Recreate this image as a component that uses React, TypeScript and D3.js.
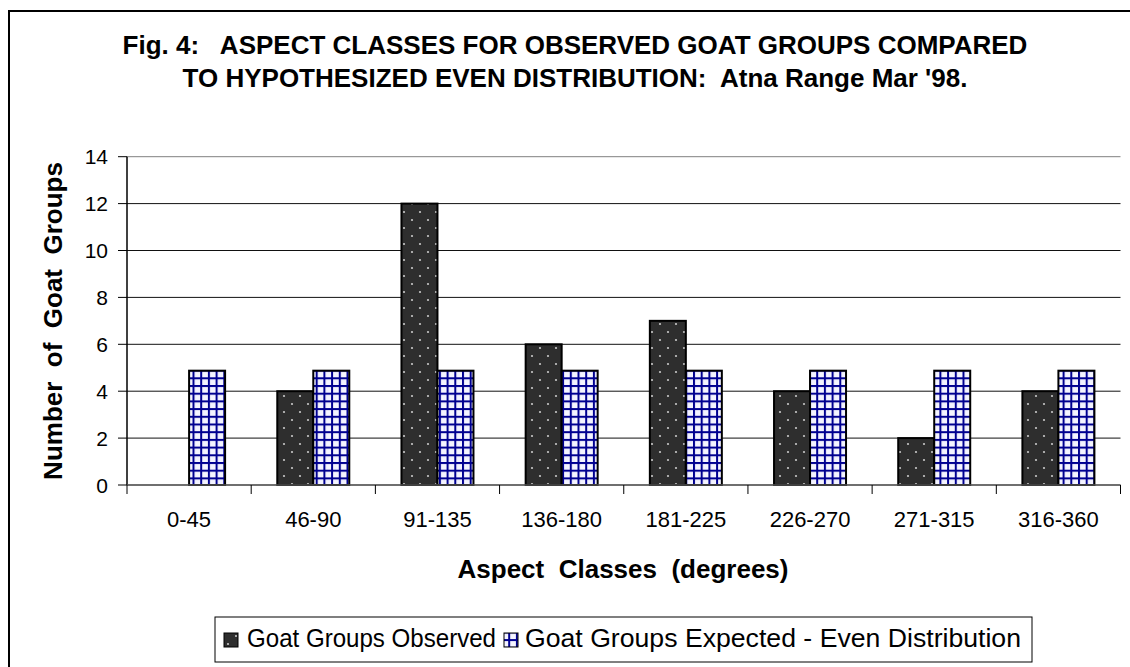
import React from "react";
import * as d3 from "d3";

const categories = ["0-45", "46-90", "91-135", "136-180", "181-225", "226-270", "271-315", "316-360"];
const observed = [0, 4, 12, 6, 7, 4, 2, 4];
const expected = [4.875, 4.875, 4.875, 4.875, 4.875, 4.875, 4.875, 4.875];
const yTicks = [0, 2, 4, 6, 8, 10, 12, 14];
const seriesNames = ["Goat Groups Observed", "Goat Groups Expected - Even Distribution"];
const titleLines = [
  "Fig. 4:   ASPECT CLASSES FOR OBSERVED GOAT GROUPS COMPARED",
  "TO HYPOTHESIZED EVEN DISTRIBUTION:  Atna Range Mar '98.",
];

const W = 1130;
const H = 667;
const FONT = "'Liberation Sans', Arial, sans-serif";

export default function App() {
  const left = 127;
  const right = 1120.5;
  const top = 156.7;
  const bottom = 485;

  const x0 = d3.scaleBand<string>().domain(categories).range([left, right]).paddingInner(0).paddingOuter(0);
  const inner = d3.scaleBand<string>().domain(["obs", "exp"]).range([0, 72]);
  const groupOffset = (x0.bandwidth() - 72) / 2;
  const y = d3.scaleLinear().domain([0, 14]).range([bottom, top]);

  const boundaries = d3.range(categories.length + 1).map((i) => left + i * x0.step());

  return (
    <svg width={W} height={H} style={{ position: "absolute", left: 0, top: 0, background: "#fff" }} fontFamily={FONT}>
      <defs>
        <pattern id="dots" patternUnits="userSpaceOnUse" width={16} height={16}>
          <rect width={16} height={16} fill="#2e2e2e" />
          <circle cx={4} cy={4} r={1.1} fill="#c8c8c8" />
          <circle cx={12} cy={12} r={1.1} fill="#c8c8c8" />
        </pattern>
        <pattern id="grid" patternUnits="userSpaceOnUse" width={7.7} height={7.7}>
          <rect width={7.7} height={7.7} fill="#f4f4ff" />
          <rect x={0} y={0} width={7.7} height={2} fill="#000090" />
          <rect x={0} y={0} width={2} height={7.7} fill="#000090" />
        </pattern>
      </defs>
      <rect x={0} y={0} width={W} height={H} fill="#fff" />
      <rect x={9} y={11} width={W + 20} height={H + 20} fill="none" stroke="#000" strokeWidth={2} />

      {titleLines.map((t, i) => (
        <text key={i} x={575} y={54 + i * 33} textAnchor="middle" fontWeight="bold" fontSize={26} style={{ whiteSpace: "pre" }}>
          {t}
        </text>
      ))}

      {/* gridlines */}
      {yTicks.map((t) => (
        <line key={t} x1={left} x2={right} y1={y(t)} y2={y(t)} stroke={t === 14 || t === 0 ? "#808080" : "#111"} strokeWidth={1} />
      ))}
      {/* y ticks & labels */}
      {yTicks.map((t) => (
        <g key={"yt" + t}>
          <line x1={left - 9} x2={left} y1={y(t)} y2={y(t)} stroke="#000" />
          <text x={left - 19} y={y(t)} dy="0.36em" textAnchor="end" fontSize={21}>
            {t}
          </text>
        </g>
      ))}
      {/* bars */}
      {categories.map((c, i) => {
        const gx = (x0(c) as number) + groupOffset;
        return (
          <g key={c}>
            {observed[i] > 0 && (
              <rect x={gx + (inner("obs") as number)} y={y(observed[i])} width={inner.bandwidth()} height={bottom - y(observed[i])} fill="url(#dots)" stroke="#000" strokeWidth={2} />
            )}
            <rect x={gx + (inner("exp") as number)} y={y(expected[i])} width={inner.bandwidth()} height={bottom - y(expected[i])} fill="url(#grid)" stroke="#000" strokeWidth={2} />
          </g>
        );
      })}
      {/* axes */}
      <line x1={left} x2={left} y1={top} y2={bottom} stroke="#000" strokeWidth={1.5} />
      <line x1={left} x2={right} y1={bottom} y2={bottom} stroke="#555" strokeWidth={1.5} />
      {boundaries.map((bx, i) => (
        <line key={"xt" + i} x1={bx} x2={bx} y1={bottom} y2={bottom + 9} stroke="#000" />
      ))}
      {categories.map((c) => (
        <text key={"xl" + c} x={(x0(c) as number) + x0.bandwidth() / 2} y={527} textAnchor="middle" fontSize={22}>
          {c}
        </text>
      ))}
      <text x={623} y={578} textAnchor="middle" fontWeight="bold" fontSize={26} style={{ whiteSpace: "pre" }}>
        {"Aspect  Classes  (degrees)"}
      </text>
      <text transform={`translate(62,321) rotate(-90)`} textAnchor="middle" fontWeight="bold" fontSize={26} style={{ whiteSpace: "pre" }}>
        {"Number  of  Goat  Groups"}
      </text>

      {/* legend */}
      <rect x={215} y={617} width={817} height={45} fill="#fff" stroke="#000" strokeWidth={1} />
      <rect x={224} y={633} width={14} height={14} fill="url(#dots)" stroke="#000" strokeWidth={1} />
      <text x={247} y={647} fontSize={26} textLength={249} lengthAdjust="spacingAndGlyphs">
        {seriesNames[0]}
      </text>
      <rect x={504} y={633} width={14} height={14} fill="url(#grid)" stroke="#000" strokeWidth={1} />
      <text x={525} y={647} fontSize={26} textLength={496} lengthAdjust="spacingAndGlyphs">
        {seriesNames[1]}
      </text>
    </svg>
  );
}
